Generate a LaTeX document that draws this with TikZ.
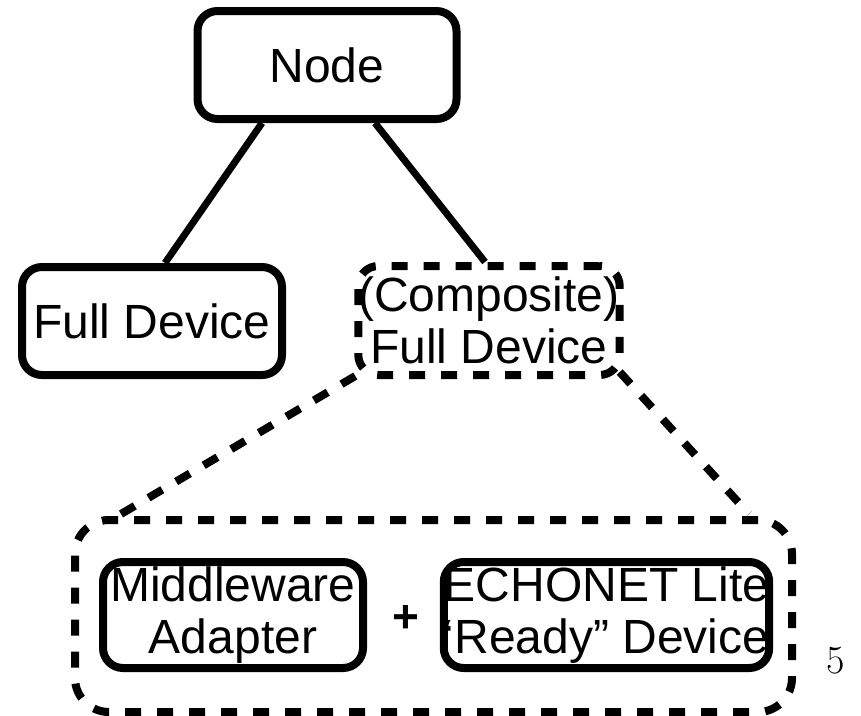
\documentclass[tikz,border=0pt]{standalone}
\usepackage{fontspec}
\newfontfamily\arialfont{Liberation Sans}
\usetikzlibrary{calc}
\begin{document}
\begin{tikzpicture}[x=1pt,y=-1pt,
  box/.style={draw, line width=8pt, rounded corners=20pt, inner sep=0pt, align=center,
    font=\arialfont\fontsize{48}{52}\selectfont},
  dbox/.style={box, dash pattern=on 16pt off 16pt},
  link/.style={line width=7pt},
  dlink/.style={line width=8pt, dash pattern=on 16pt off 16pt}]
\useasboundingbox (0,0) rectangle (861,715);
\node[box, minimum width=259pt, minimum height=108pt] (nd) at (327,65) {Node};
\node[box, minimum width=260pt, minimum height=108pt] (fd) at (152,321) {Full Device};
\node[dbox, minimum width=260pt, minimum height=109pt] (cp) at (489,320.5) {(Composite)\\Full Device};
\node[dbox, rounded corners=34pt, minimum width=717pt, minimum height=192pt] (big) at (433.5,616) {};
\node[box, minimum width=260pt, minimum height=106pt] (mw) at (233,615) {Middleware\\Adapter};
\node[box, minimum width=321pt, minimum height=106pt] (ec) at (606.5,615) {ECHONET Lite\\‘Ready” Device};
\node[font=\arialfont\fontsize{46}{52}\selectfont\bfseries] (plus) at (405.5,619) {+};
\node[font=\fontsize{40}{40}\selectfont] (pg) at (836,661) {5};
\draw[link] ($(nd.south)+(-65,0)$) -- ($(fd.north)+(13,0)$);
\draw[link] ($(nd.south)+(48,0)$) -- ($(cp.north)+(-4,0)$);
\draw[dlink] ($(cp.south west)+(1,-3)$) -- ($(big.north west)+(50,-2)$);
\draw[dlink] ($(cp.south east)+(-4,-7)$) -- ($(big.north east)+(-47,-2)$);
\end{tikzpicture}
\end{document}
